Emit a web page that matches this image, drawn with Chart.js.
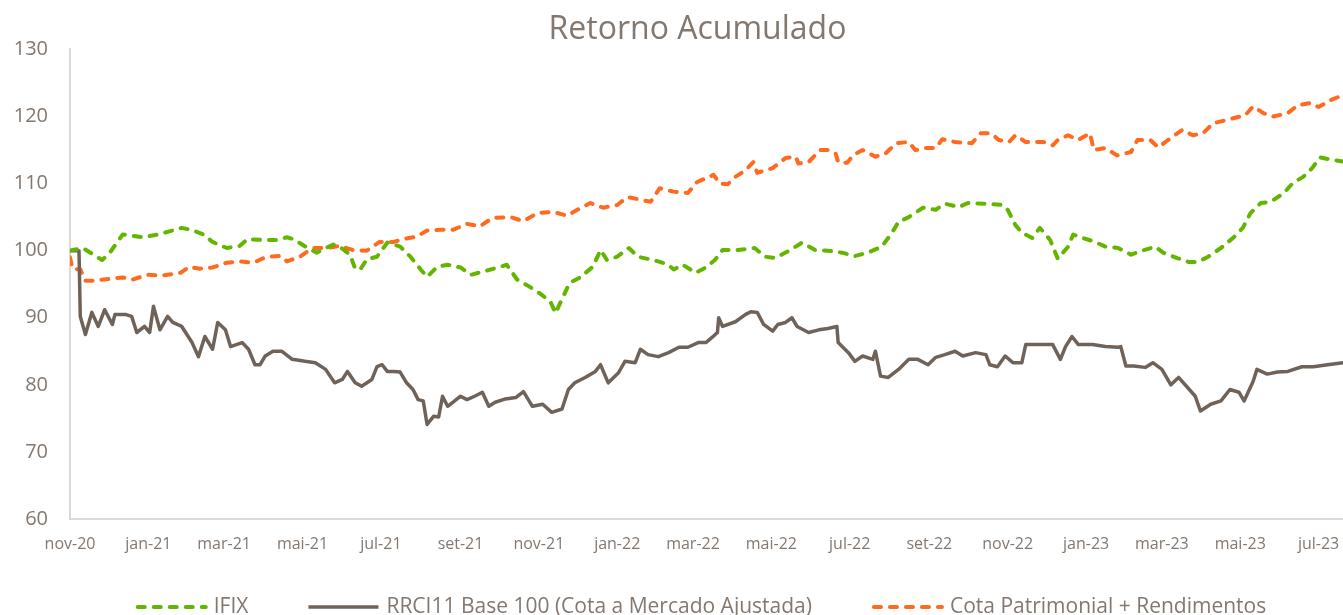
<!DOCTYPE html>
<html>
<head>
<meta charset="utf-8">
<script src="https://cdn.jsdelivr.net/npm/chart.js@4/dist/chart.umd.min.js"></script>
<style>
  html, body { margin: 0; padding: 0; background: #ffffff; overflow: hidden; }
  #wrap { position: relative; width: 1343px; height: 615px; }
</style>
</head>
<body>
<div id="wrap"><canvas id="c"></canvas></div>
<script>
// ---- Data (x = days since 2020-11-01) ----
const startDate = '2020-11-01';
const tickDates  = ['2020-11-01','2021-01-01','2021-03-01','2021-05-01','2021-07-01','2021-09-01','2021-11-01',
                    '2022-01-01','2022-03-01','2022-05-01','2022-07-01','2022-09-01','2022-11-01',
                    '2023-01-01','2023-03-01','2023-05-01','2023-07-01'];
const tickLabels = ['nov-20','jan-21','mar-21','mai-21','jul-21','set-21','nov-21',
                    'jan-22','mar-22','mai-22','jul-22','set-22','nov-22',
                    'jan-23','mar-23','mai-23','jul-23'];

const seriesNames = ['IFIX', 'RRCI11 Base 100 (Cota a Mercado Ajustada)', 'Cota Patrimonial + Rendimentos'];

const ifixDays = [0,10,25,31,41,57,68,76,87,96,104,111,122,132,138,150,161,169,174,185,192,199,205,210,218,222,226,231,239,247,257,265,273,278,286,294,304,312,322,335,340,348,358,366,374,378,384,389,397,407,413,418,426,435,442,454,465,470,477,487,495,502,508,520,533,541,549,559,570,580,590,601,611,621,632,640,645,653,664,674,681,692,699,713,726,730,736,741,749,755,763,769,777,781,790,798,806,816,826,833,845,851,862,871,878,886,896,906,913,919,927,935,945,952,960,967,973,981,991];
const ifixValues = [100,100.4,98.6,99.7,102.4,102,102.4,102.8,103.4,103,102.4,101.3,100.4,100.7,101.7,101.6,101.6,102,101.7,100.4,99.7,100.4,100.9,100.6,99.4,97.3,97.2,98.7,99.1,101.2,100.6,99.1,97.2,96.1,97.6,97.9,97.5,96.4,96.9,97.6,97.9,95.7,94.6,93.6,92.4,90.7,93.2,95.2,96,97.6,100.1,98.6,99.1,100.4,99.1,98.6,98,97.2,97.9,96.7,97.5,98.6,100.1,100.1,100.4,99.1,98.9,99.9,101.2,100.1,100,99.7,99.2,99.7,100.6,102.7,104.3,105,106.4,106.1,107,106.5,107.1,107,106.8,106.1,103.8,102.7,101.9,103.4,101.6,98.8,100.6,102.4,101.8,101.3,100.6,100.4,99.4,99.9,100.6,99.7,98.9,98.3,98.3,99.1,100.4,102,103.4,105.6,107.1,107.3,108.6,110.1,111,112.3,113.9,113.6,113.3];

const rrciDays = [0,7,8,12,17,22,27,33,35,43,48,52,58,62,65,70,76,80,87,95,100,105,111,115,121,125,134,139,144,148,152,158,165,173,183,191,199,206,212,216,222,227,235,239,243,247,252,257,262,267,271,275,278,283,287,290,294,298,304,309,315,321,326,331,339,347,353,360,368,375,383,388,393,401,409,413,419,427,432,440,444,450,458,466,474,481,489,495,500,504,505,508,518,526,530,535,540,547,551,557,562,566,575,583,590,597,598,606,611,617,625,627,631,637,645,653,660,668,674,681,689,695,705,713,716,722,728,734,741,744,765,771,775,780,785,796,806,816,818,822,828,837,843,850,857,863,870,876,880,888,896,903,910,914,921,924,932,940,948,959,968,979,991];
const rrciValues = [100,100,90.2,87.5,90.8,88.7,91.2,89,90.5,90.5,90.2,87.8,88.7,87.8,91.7,88.2,90.2,89.3,88.7,86.3,84.2,87.2,85.3,89.3,88.2,85.7,86.3,85.3,83,83,84.3,85,85,83.8,83.5,83.3,82.3,80.3,80.8,82,80.3,79.8,80.8,82.7,83,82,82,81.9,80.3,79.3,77.8,77.6,74.1,75.3,75.2,78.3,76.8,77.4,78.3,77.8,78.3,78.9,76.8,77.4,77.9,78.1,79,76.8,77.1,75.9,76.4,79.3,80.3,81.1,82,83,80.3,81.8,83.5,83.3,85.3,84.5,84.2,84.8,85.6,85.6,86.3,86.3,87.1,87.8,90,88.7,89.4,90.5,90.9,90.8,89,88,89,89.3,90,88.7,87.8,88.2,88.4,88.7,86.3,84.8,83.5,84.3,83.8,85,81.3,81.1,82.3,83.8,83.8,83,84.1,84.5,85,84.3,84.8,84.5,83,82.7,84.3,83.3,83.3,86,86,83.8,85.7,87.2,86,86,85.7,85.6,85.7,82.8,82.8,82.6,83.3,82.3,80,81.1,79.6,78.3,76.1,77.1,77.6,79.3,78.9,77.6,80.5,82.3,81.6,81.9,82,82.7,82.7,83,83.3];

const cotaDays = [0,2,8,12,18,31,41,49,60,72,86,93,101,111,122,132,143,153,164,169,179,189,200,210,220,231,241,252,259,270,278,288,298,309,319,329,343,353,364,376,387,395,405,415,426,434,444,452,459,470,481,488,495,501,506,512,518,526,532,535,547,557,565,567,575,579,584,590,596,598,605,610,617,627,635,643,653,658,666,674,679,689,702,709,717,723,731,736,744,758,765,769,777,785,794,797,806,815,826,831,841,847,857,866,874,882,890,901,915,921,929,937,948,956,966,972,981,991];
const cotaValues = [99,97.3,97.2,95.5,95.5,95.8,96,95.7,96.4,96.3,96.7,97.6,97.3,97.5,98.2,98.4,98.2,99.1,99.2,98.4,99.1,100.4,100.4,100.7,100.1,100,101.3,101.3,101.7,102.1,103,103.1,103.1,104,103.6,104.9,105,104.4,105.6,105.8,105.2,106.1,107.1,106.4,106.8,108,107.6,107.3,109.3,108.8,108.6,110.2,110.8,111.3,110,109.9,111,112,113.2,111.6,112.3,113.8,114,113,113.2,114,115,115,114.5,113.2,113.1,114.3,115,114,114.5,116,116.2,115,115.3,115.3,116.6,116.2,116,117.5,117.5,116.5,116.2,117.2,116.2,116.2,115.7,116.5,117.2,116.5,117.5,115,115.3,114.2,114.7,116.5,116.5,115.4,116.8,118,117.2,117.5,119,119.5,120.2,121.5,120.5,120,120.5,121.7,122,121.4,122.4,123.2];

const yTickValues = [60,70,80,90,100,110,120,130];

// ---- helpers ----
const DAY = 86400000;
const toDay = s => Math.round((Date.parse(s) - Date.parse(startDate)) / DAY);
const tickDays = tickDates.map(toDay);
const pts = (d, v) => d.map((x, i) => ({ x: x, y: v[i] }));

const TEXT = '#83786f';
const FONT = "'Open Sans', 'DejaVu Sans', sans-serif";
Chart.defaults.font.family = FONT;
Chart.defaults.color = TEXT;

const TITLE_DX = 26;
const titleNudge = {
  id: 'titleNudge',
  afterLayout(chart) {
    const t = chart.titleBlock;
    if (t) { t.left += TITLE_DX; t.right += TITLE_DX; }
  }
};

// Legend drawn with dashed line samples (built-in point-style legend ignores dashes)
const LEG = { centerX: 701, centerY: 607, line: 70, gap: 8, sep: 60, size: 21 };
const dashLegend = {
  id: 'dashLegend',
  afterDraw(chart) {
    const ctx = chart.ctx;
    const dsets = chart.data.datasets;
    ctx.save();
    ctx.font = LEG.size + 'px ' + FONT;
    const widths = dsets.map(ds => ctx.measureText(ds.label).width);
    const total = widths.reduce((a, w) => a + LEG.line + LEG.gap + w, 0) + LEG.sep * (dsets.length - 1);
    let x = LEG.centerX - total / 2;
    dsets.forEach((ds, i) => {
      ctx.beginPath();
      ctx.strokeStyle = ds.borderColor;
      ctx.lineWidth = ds.borderWidth;
      ctx.lineCap = ds.borderDash ? 'round' : 'butt';
      ctx.setLineDash(ds.borderDash || []);
      ctx.moveTo(x + (ds.borderDash ? 2 : 0), LEG.centerY);
      ctx.lineTo(x + LEG.line, LEG.centerY);
      ctx.stroke();
      ctx.setLineDash([]);
      ctx.fillStyle = TEXT;
      ctx.textBaseline = 'middle';
      ctx.textAlign = 'left';
      ctx.fillText(ds.label, x + LEG.line + LEG.gap, LEG.centerY);
      x += LEG.line + LEG.gap + widths[i] + LEG.sep;
    });
    ctx.restore();
  }
};

new Chart(document.getElementById('c'), {
  type: 'line',
  data: {
    datasets: [
      { label: seriesNames[0], data: pts(ifixDays, ifixValues), borderColor: '#64b500', backgroundColor: '#64b500',
        borderWidth: 4, borderDash: [7, 9], borderCapStyle: 'round', borderJoinStyle: 'round', pointRadius: 0, tension: 0 },
      { label: seriesNames[1], data: pts(rrciDays, rrciValues), borderColor: '#6e6259', backgroundColor: '#6e6259',
        borderWidth: 3.5, borderCapStyle: 'round', borderJoinStyle: 'round', pointRadius: 0, tension: 0 },
      { label: seriesNames[2], data: pts(cotaDays, cotaValues), borderColor: '#ff6a1e', backgroundColor: '#ff6a1e',
        borderWidth: 4, borderDash: [7, 9], borderCapStyle: 'round', borderJoinStyle: 'round', pointRadius: 0, tension: 0 }
    ]
  },
  options: {
    responsive: true,
    maintainAspectRatio: false,
    animation: false,
    layout: { padding: { left: 0, right: 0, top: 0, bottom: 60 } },
    plugins: {
      title: {
        display: true, text: 'Retorno Acumulado', color: TEXT,
        font: { size: 32, weight: 'normal', family: FONT },
        padding: { top: 11, bottom: 0 }
      },
      legend: { display: false },
      tooltip: { enabled: false }
    },
    scales: {
      x: {
        type: 'linear', min: 0, max: 991,
        grid: { display: false, drawTicks: false },
        border: { display: true, color: '#d9d9d9', width: 2 },
        afterBuildTicks: (scale) => { scale.ticks = tickDays.map(v => ({ value: v })); },
        afterFit: (scale) => { scale.height = 36; scale.paddingRight = 0; scale.paddingLeft = 0; },
        ticks: {
          autoSkip: false, maxRotation: 0, minRotation: 0, padding: 16,
          font: { size: 16, family: FONT }, color: TEXT,
          callback: (v, i) => tickLabels[i]
        }
      },
      y: {
        type: 'linear', min: 60, max: 130,
        grid: { display: false, drawTicks: false },
        border: { display: true, color: '#d9d9d9', width: 2 },
        afterBuildTicks: (scale) => { scale.ticks = yTickValues.map(v => ({ value: v })); },
        afterFit: (scale) => { scale.width = 70; },
        ticks: { padding: 22, font: { size: 20, family: FONT }, color: TEXT }
      }
    }
  },
  plugins: [titleNudge, dashLegend]
});
</script>
</body>
</html>
